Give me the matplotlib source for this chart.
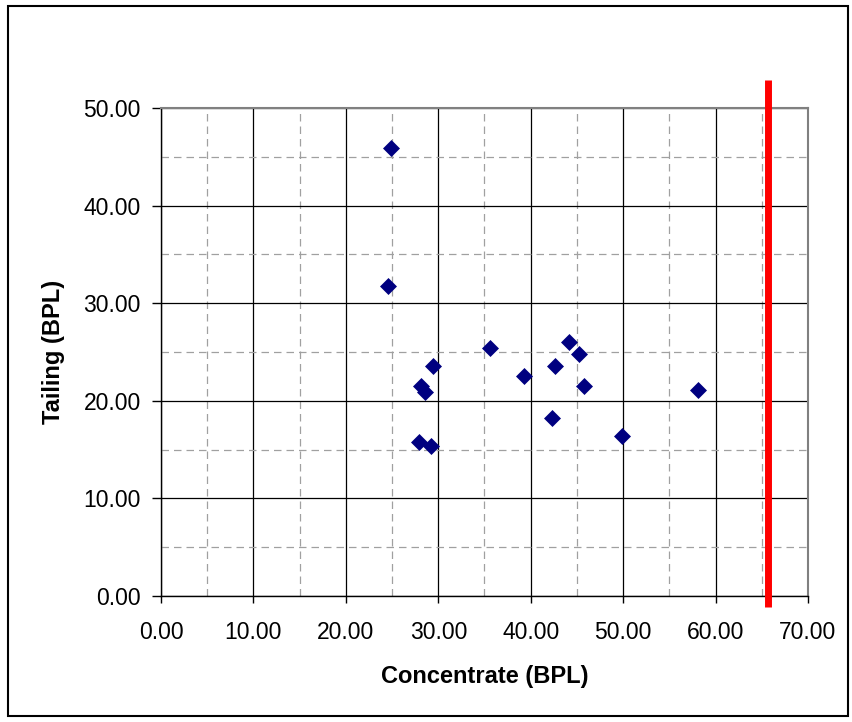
import matplotlib
matplotlib.use("Agg")
import matplotlib.pyplot as plt
from matplotlib.ticker import MultipleLocator, FormatStrFormatter
from matplotlib.patches import Rectangle

plt.rcParams['font.family'] = ['Liberation Sans', 'DejaVu Sans']

concentrate = [24.85, 24.6, 35.6, 29.4, 28.1, 28.6, 27.9, 29.2, 39.3, 42.6,
               42.3, 44.1, 45.2, 45.8, 49.9, 58.1]
tailing = [45.9, 31.8, 25.4, 23.6, 21.5, 20.9, 15.8, 15.4, 22.5, 23.6,
           18.2, 26.0, 24.8, 21.5, 16.4, 21.1]
limit_x = 65.7
limit_y = [-1.1, 52.9]

fig = plt.figure(figsize=(8.53, 7.22), dpi=100)
fig.patches.append(Rectangle((8 / 853, 1 - 716 / 722), 840 / 853, 710 / 722,
                             transform=fig.transFigure, fill=False,
                             edgecolor='black', linewidth=1.5))
ax = fig.add_axes([161 / 853, 1 - 596 / 722, 647 / 853, 488 / 722])

ax.set_xlim(0, 70)
ax.set_ylim(0, 50)
ax.xaxis.set_major_locator(MultipleLocator(10))
ax.xaxis.set_minor_locator(MultipleLocator(5))
ax.yaxis.set_major_locator(MultipleLocator(10))
ax.yaxis.set_minor_locator(MultipleLocator(5))
ax.xaxis.set_major_formatter(FormatStrFormatter('%.2f'))
ax.yaxis.set_major_formatter(FormatStrFormatter('%.2f'))

ax.grid(which='major', color='black', linewidth=0.9, linestyle='-')
ax.grid(which='minor', color='#a0a0a0', linewidth=0.9, linestyle=(0, (6, 4)))
ax.set_axisbelow(True)

ax.tick_params(axis='x', which='major', direction='out', length=5, width=1,
               labelsize=16.5, pad=13, colors='black')
ax.tick_params(axis='y', which='major', direction='out', length=6.5, width=1,
               labelsize=16.5, pad=8, colors='black')
ax.tick_params(which='minor', length=0)

for side in ('left', 'bottom'):
    ax.spines[side].set_color('black')
    ax.spines[side].set_linewidth(1)
for side in ('right', 'top'):
    ax.spines[side].set_color('#808080')
    ax.spines[side].set_linewidth(1.5)

ax.scatter(concentrate, tailing, marker='D', s=75, color='#000080',
           zorder=3, linewidths=0)

ax.plot([limit_x, limit_x], limit_y, color='#ff0000', linewidth=5,
        clip_on=False, zorder=4, solid_capstyle='butt')

ax.set_xlabel('Concentrate (BPL)', fontsize=17, fontweight='bold', va='center')
ax.set_ylabel('Tailing (BPL)', fontsize=17, fontweight='bold', va='center')
ax.xaxis.set_label_coords(0.5, -80 / 488)
ax.yaxis.set_label_coords(-108 / 647, 0.5)

fig.savefig('out.png', dpi=100)
